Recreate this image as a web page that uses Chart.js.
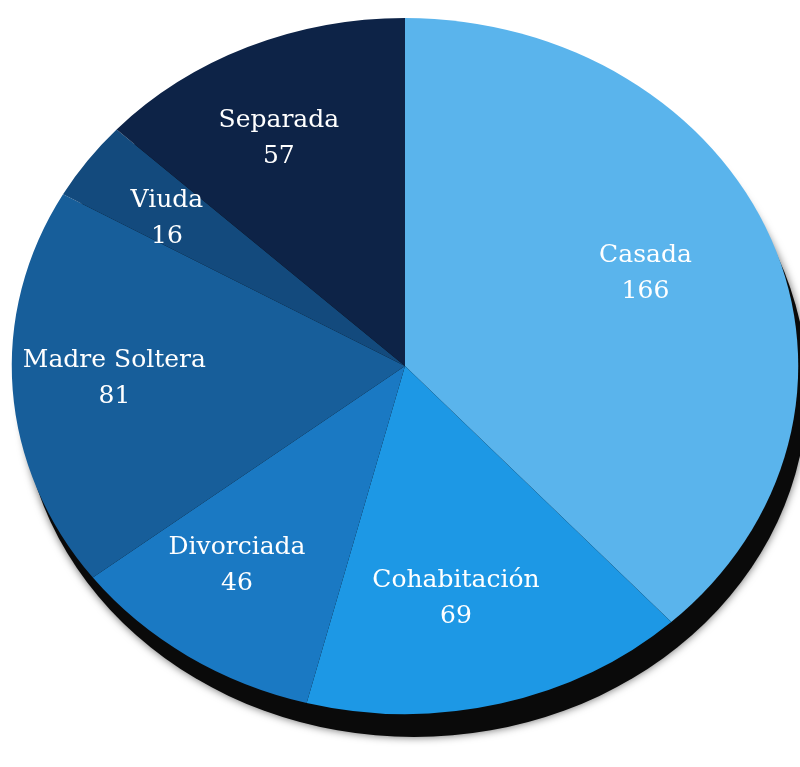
<!DOCTYPE html>
<html>
<head>
<meta charset="utf-8">
<script src="https://cdn.jsdelivr.net/npm/chart.js@4.4.0/dist/chart.umd.min.js"></script>
<style>
  body { margin: 0; background: #ffffff; }
  #box { width: 800px; height: 767px; }
</style>
</head>
<body>
<div id="box"><canvas id="myChart"></canvas></div>
<script>
// data
var labels = ['Casada', 'Cohabitación', 'Divorciada', 'Madre Soltera', 'Viuda', 'Separada'];
var values = [166, 69, 46, 81, 16, 57];
var colors = ['#5ab4ec', '#1d98e5', '#1a79c3', '#175e9a', '#134a7d', '#0d2347'];

// pie is wider than tall in the picture, so stretch it a bit
var stretchX = 1.13;

var squash = {
    id: 'squash',
    beforeDatasetsDraw: function(chart) {
        var ctx = chart.ctx;
        var arc = chart.getDatasetMeta(0).data[0];
        var cx = arc.x, cy = arc.y, r = arc.outerRadius;
        ctx.save();
        ctx.translate(cx, cy);
        ctx.scale(stretchX, 1);
        ctx.translate(-cx, -cy);
        // dark drop shadow under the disc
        ctx.save();
        ctx.fillStyle = '#0a0a0a';
        ctx.shadowColor = 'rgba(0,0,0,0.6)';
        ctx.shadowBlur = 8;
        ctx.beginPath();
        ctx.arc(cx + 8, cy + 23, r, 0, Math.PI * 2);
        ctx.fill();
        ctx.restore();
    },
    afterDatasetsDraw: function(chart) {
        chart.ctx.restore();
    },
    afterDraw: function(chart) {
        var ctx = chart.ctx;
        var meta = chart.getDatasetMeta(0);
        ctx.save();
        ctx.fillStyle = '#ffffff';
        ctx.font = '25px "DejaVu Serif"';
        ctx.textAlign = 'center';
        ctx.textBaseline = 'middle';
        meta.data.forEach(function(a, i) {
            var mid = (a.startAngle + a.endAngle) / 2;
            var d = a.outerRadius * 0.7;
            var x = a.x - 16 + Math.cos(mid) * d * stretchX;
            var y = a.y - 4 + Math.sin(mid) * d;
            ctx.fillText(labels[i], x, y - 18);
            ctx.fillText(String(values[i]), x, y + 18);
        });
        ctx.restore();
    }
};

var ctx = document.getElementById('myChart').getContext('2d');
var chart = new Chart(ctx, {
    type: 'pie',
    data: {
        labels: labels,
        datasets: [{
            data: values,
            backgroundColor: colors,
            borderWidth: 0
        }]
    },
    options: {
        responsive: true,
        maintainAspectRatio: false,
        animation: false,
        layout: { padding: { left: 57, right: 47, top: 18, bottom: 53 } },
        plugins: {
            legend: { display: false },
            tooltip: { enabled: false }
        }
    },
    plugins: [squash]
});
</script>
</body>
</html>
